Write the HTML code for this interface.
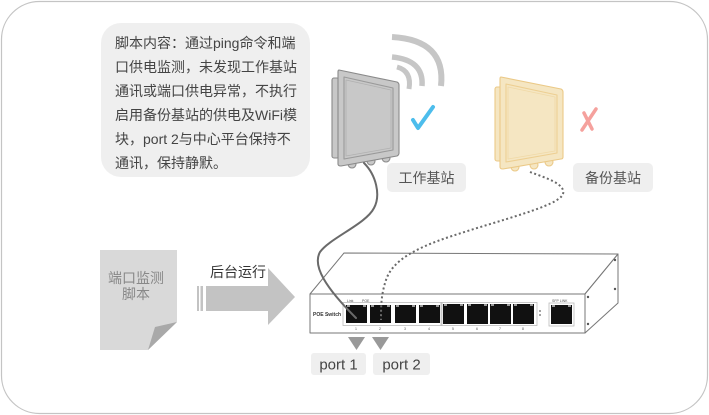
<!DOCTYPE html>
<html><head><meta charset="utf-8"><style>
html,body{margin:0;padding:0;background:#fff;}
svg{display:block;}
text{font-family:"Liberation Sans","Noto Sans CJK SC",sans-serif;}
</style></head><body>
<svg width="709" height="415" viewBox="0 0 709 415" xmlns="http://www.w3.org/2000/svg">
<rect x="1.5" y="1.5" width="706" height="412" rx="38" fill="#fff" stroke="#c4c4c4" stroke-width="1.2"/>

<!-- bubble -->
<rect x="101" y="23" width="209" height="154" rx="20" fill="#efefef"/>
<g font-size="14" fill="#444">
<text x="115" y="48">脚本内容：通过ping命令和端</text>
<text x="115" y="72">口供电监测，未发现工作基站</text>
<text x="115" y="96">通讯或端口供电异常，不执行</text>
<text x="115" y="120">启用备份基站的供电及WiFi模</text>
<text x="115" y="144">块，port 2与中心平台保持不</text>
<text x="115" y="168">通讯，保持静默。</text>
</g>

<!-- wifi arcs -->
<g fill="none" stroke="#c6c6c6" stroke-linecap="butt">
<path d="M392,37 Q446,40 441,86" stroke-width="6"/>
<path d="M392,57 Q424,60 422,86" stroke-width="5.5"/>
<path d="M397,67 Q412,71 409,89" stroke-width="5"/>
</g>

<!-- working antenna -->
<g stroke="#8a8a8a" stroke-width="1.1" fill="#c8c8c8" stroke-linejoin="round">
<rect x="332" y="78" width="7" height="80" rx="2"/>
<ellipse cx="352" cy="164" rx="4" ry="4"/>
<ellipse cx="371" cy="161" rx="4" ry="4"/>
<ellipse cx="386" cy="158" rx="4" ry="4"/>
<path d="M339,70 L397,82 Q399,83 399,85 L399,153 Q399,155 397,156 L341,166 Q338,166 338,164 L338,72 Q338,70 339,70 Z"/>
<path d="M344,77 L393,88 L393,150 L344,159 Z" fill="none" stroke="#9a9a9a"/>
<path d="M346,80 L391,90 L391,148 L346,156 Z" fill="none" stroke="#b0b0b0" stroke-width="0.8"/>
</g>
<!-- check -->
<path d="M413,120 L418,128 L433,107" fill="none" stroke="#4dbdec" stroke-width="4" stroke-linecap="round" stroke-linejoin="round"/>

<!-- backup antenna -->
<g stroke="#ebc987" stroke-width="1.1" fill="#f5e6c2" stroke-linejoin="round">
<rect x="495" y="87" width="7" height="74" rx="2"/>
<ellipse cx="515" cy="167" rx="4" ry="4"/>
<ellipse cx="534" cy="165" rx="4" ry="4"/>
<ellipse cx="549" cy="162" rx="4" ry="4"/>
<path d="M501,77 L561,89 Q563,90 563,92 L563,157 Q563,159 561,159 L503,169 Q500,169 500,167 L500,79 Q500,77 501,77 Z"/>
<path d="M506,84 L557,95 L557,153 L506,162 Z" fill="none" stroke="#edcf92"/>
<path d="M508,87 L555,97 L555,151 L508,159 Z" fill="none" stroke="#f0d9a6" stroke-width="0.8"/>
</g>
<!-- X -->
<g stroke="#f5a19d" stroke-width="3.5" stroke-linecap="round">
<path d="M596,109 L582,130"/>
<path d="M584,113 L592,129"/>
</g>

<!-- labels -->
<rect x="387" y="163" width="79" height="29" rx="5" fill="#efefef"/>
<text x="426.5" y="183" font-size="14" fill="#555" text-anchor="middle">工作基站</text>
<rect x="573" y="163" width="80" height="29" rx="5" fill="#efefef"/>
<text x="613" y="183" font-size="14" fill="#555" text-anchor="middle">备份基站</text>

<!-- switch -->
<g stroke="#777" stroke-width="1" fill="#fff" stroke-linejoin="round">
<path d="M310,294 L344,253 L618,254 L585,294 Z"/>
<path d="M585,294 L618,254 L618,303 L585,333 Z"/>
<rect x="310" y="294" width="275" height="39"/>
</g>
<g fill="#555">
<circle cx="588" cy="297" r="1.2"/><circle cx="588" cy="324" r="1.2"/>
<circle cx="615" cy="260" r="1.2"/><circle cx="615" cy="289" r="1.2"/>
</g>
<text x="313" y="316" font-size="5" font-weight="bold" fill="#333">POE Switch</text>
<text x="347" y="302" font-size="3.5" fill="#555">Link</text>
<text x="362" y="302" font-size="3.5" fill="#555">POE</text>
<text x="552" y="302" font-size="3.5" fill="#555">SFP LINK</text>
<rect x="343" y="302.5" width="99" height="23" fill="none" stroke="#bbb" stroke-width="0.8"/>
<rect x="441" y="302.5" width="96" height="23" fill="none" stroke="#bbb" stroke-width="0.8"/>
<rect x="549" y="303" width="25" height="23" fill="none" stroke="#bbb" stroke-width="0.8"/>
<g fill="#111">
<rect x="346" y="305" width="21" height="18"/>
<rect x="370" y="305" width="21" height="18"/>
<rect x="395" y="305" width="21" height="18"/>
<rect x="419" y="305" width="21" height="18"/>
<rect x="443" y="304" width="21" height="20"/>
<rect x="467" y="304" width="21" height="20"/>
<rect x="490" y="304" width="21" height="20"/>
<rect x="513" y="304" width="21" height="20"/>
<rect x="551" y="305" width="21" height="19"/>
</g>
<g fill="#999">
<rect x="347" y="305" width="3" height="2"/><rect x="363" y="305" width="3" height="2"/>
<rect x="371" y="305" width="3" height="2"/><rect x="387" y="305" width="3" height="2"/>
<rect x="396" y="305" width="3" height="2"/><rect x="412" y="305" width="3" height="2"/>
<rect x="420" y="305" width="3" height="2"/><rect x="436" y="305" width="3" height="2"/>
<rect x="444" y="304" width="3" height="2"/><rect x="460" y="304" width="3" height="2"/>
<rect x="468" y="304" width="3" height="2"/><rect x="484" y="304" width="3" height="2"/>
<rect x="491" y="304" width="3" height="2"/><rect x="507" y="304" width="3" height="2"/>
<rect x="514" y="304" width="3" height="2"/><rect x="530" y="304" width="3" height="2"/>
<rect x="552" y="305" width="3" height="2"/><rect x="568" y="305" width="3" height="2"/>
</g>
<g font-size="3.5" fill="#555" text-anchor="middle">
<text x="356" y="330">1</text><text x="380" y="330">2</text><text x="405" y="330">3</text><text x="429" y="330">4</text>
<text x="453" y="330">5</text><text x="477" y="330">6</text><text x="500" y="330">7</text><text x="523" y="330">8</text>
</g>
<g fill="#888"><circle cx="540" cy="311" r="1"/><circle cx="540" cy="315" r="1"/></g>

<!-- cables -->
<path d="M364,163 C376,175 381,195 374,208 C366,224 330,238 320,252 C312,266 326,288 356,318" fill="none" stroke="#6a6a6a" stroke-width="2" stroke-linecap="round"/>
<path d="M530,172 C546,178 566,184 563,194 C559,206 500,220 452,236 C412,249 392,262 386,280 C381,295 381,306 381,320" fill="none" stroke="#6a6a6a" stroke-width="2" stroke-dasharray="2 2.5"/>

<!-- port pointers -->
<g fill="#999">
<path d="M348,337 L365,337 L356.5,350 Z"/>
<path d="M372,337 L389,337 L380.5,350 Z"/>
</g>
<rect x="311" y="353" width="55" height="22" rx="3" fill="#efefef"/>
<text x="338.5" y="369.5" font-size="15" fill="#444" text-anchor="middle">port 1</text>
<rect x="373" y="353" width="57" height="22" rx="3" fill="#efefef"/>
<text x="401.5" y="369.5" font-size="15" fill="#444" text-anchor="middle">port 2</text>

<!-- document -->
<path d="M100,250 L177,250 L177,322 L148,350 L100,350 Z" fill="#d9d9d9"/>
<path d="M148,350 L155,327 L177,322 Z" fill="#a9a9a9"/>
<text x="136" y="283" font-size="14" fill="#888" text-anchor="middle">端口监测</text>
<text x="136" y="299" font-size="14" fill="#888" text-anchor="middle">脚本</text>

<!-- arrow -->
<g fill="#c3c3c3">
<rect x="197" y="286" width="2" height="25"/>
<rect x="200.5" y="286" width="2.5" height="25"/>
<path d="M206,286 L268,286 L268,268 L295,297 L268,325 L268,311 L206,311 Z"/>
</g>
<text x="210" y="277" font-size="14" fill="#333">后台运行</text>
</svg>
</body></html>
